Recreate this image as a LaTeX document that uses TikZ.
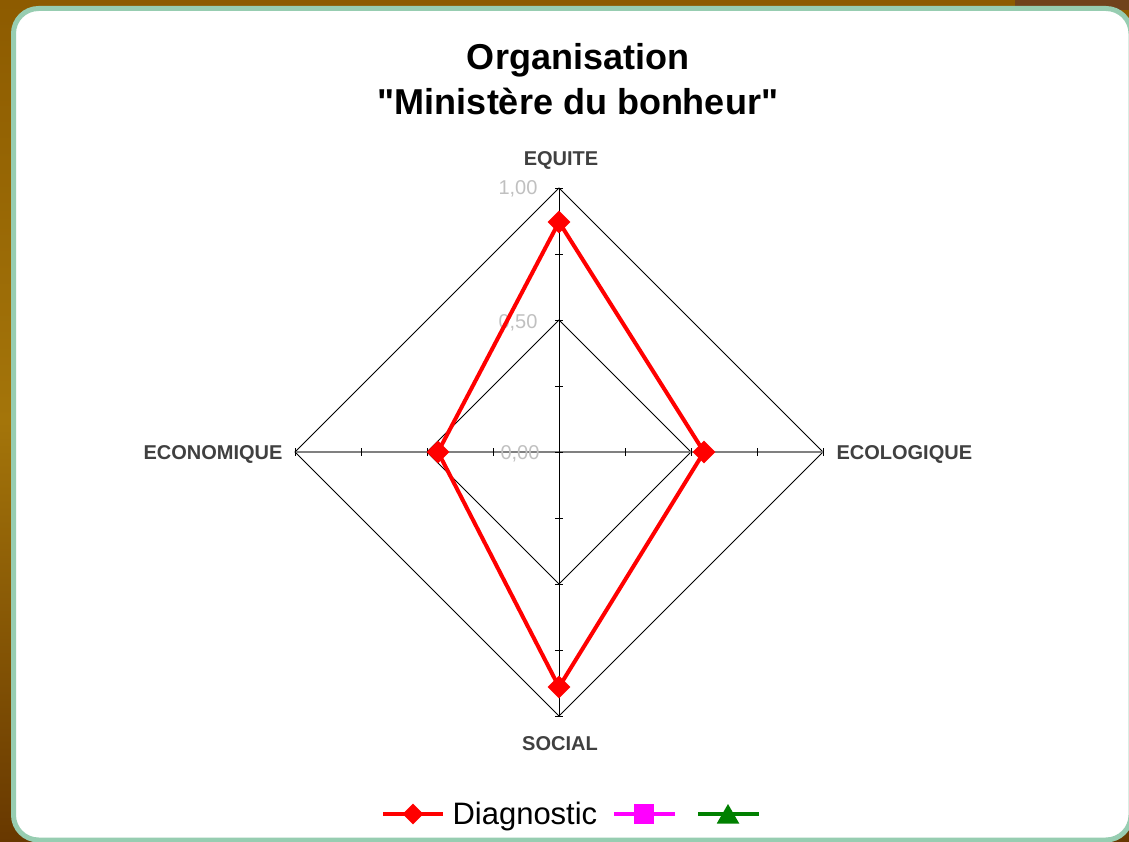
\documentclass[tikz,border=0pt]{standalone}
\usepackage{fontspec}
\setmainfont{Liberation Sans}[Ligatures=TeXOff]
\usetikzlibrary{shapes.geometric}
\definecolor{outerbrown}{RGB}{141,91,0}
\definecolor{goldbrown}{RGB}{164,117,10}
\definecolor{darkbrown}{RGB}{104,56,0}
\definecolor{cornerbrown}{RGB}{112,66,28}
\definecolor{panelgreen}{RGB}{151,205,177}
\definecolor{axistext}{RGB}{64,64,64}
\definecolor{valuegray}{RGB}{192,192,192}
\definecolor{seriesmagenta}{RGB}{255,0,255}
\definecolor{seriesgreen}{RGB}{0,128,0}

\begin{document}
\begin{tikzpicture}[x=1pt,y=-1pt,
        gridline/.style={black,line width=0.8pt},
        axistitle/.style={font=\fontsize{20}{20}\selectfont\bfseries,text=axistext},
        axisvalue/.style={font=\fontsize{20}{20}\selectfont,text=valuegray,anchor=base east},
        charttitle/.style={font=\fontsize{36}{36}\selectfont\bfseries,anchor=base},
        serie/.style={line width=4pt,line join=round},
        diagmark/.style={diamond,fill=red,inner sep=0pt,minimum size=23pt}]
        \useasboundingbox (0,0) rectangle (1129,842);
        \shade[top color=outerbrown,bottom color=darkbrown,middle color=goldbrown] (0,0) rectangle (1129,842);
        \fill[cornerbrown] (1015,0) rectangle (1129,10);
        \filldraw[fill=white,draw=panelgreen,line width=5pt,rounded corners=25pt] (13.5,8.5) rectangle (1131,840);

        \node[charttitle] (title1) at (578,70) {Organisation};
        \node[charttitle] (title2) at (578,115) {"Ministère du bonheur"};

        \coordinate (center) at (559,452);
        \coordinate (equite) at (559,188);
        \coordinate (ecologique) at (823,452);
        \coordinate (social) at (559,716);
        \coordinate (economique) at (295,452);
        \coordinate (equiteH) at (559,320);
        \coordinate (ecologiqueH) at (691,452);
        \coordinate (socialH) at (559,584);
        \coordinate (economiqueH) at (427,452);

        \draw[gridline] (equite) -- (ecologique) -- (social) -- (economique) -- cycle;
        \draw[gridline] (equiteH) -- (ecologiqueH) -- (socialH) -- (economiqueH) -- cycle;
        \draw[gray,line width=1.2pt] (economique) -- (ecologique);
        \draw[gridline] (equite) -- (social);
        \foreach \k in {-4,...,4} {
            \draw[gridline] (555,{452+66*(\k)}) -- (563,{452+66*(\k)});
            \draw[gridline] ({559+66*(\k)},448) -- ({559+66*(\k)},456);
        }

        \node[axisvalue] (v100) at (541,195) {1,00};
        \node[axisvalue] (v050) at (541,328) {0,50};
        \node[axisvalue] (v000) at (543,459) {0,00};

        \node[axistitle,anchor=base] (tEquite) at (561,166) {EQUITE};
        \node[axistitle,anchor=base] (tSocial) at (560,750) {SOCIAL};
        \node[axistitle,anchor=base east] (tEconomique) at (286,459) {ECONOMIQUE};
        \node[axistitle,anchor=base west] (tEcologique) at (833,459) {ECOLOGIQUE};

        \coordinate (dEquite) at (559,222);
        \coordinate (dEcologique) at (704,452);
        \coordinate (dSocial) at (559,687);
        \coordinate (dEconomique) at (438,452);
        \draw[serie,red] (dEquite) -- (dEcologique) -- (dSocial) -- (dEconomique) -- cycle;
        \foreach \p in {dEquite,dEcologique,dSocial,dEconomique}
            \node[diagmark] (m\p) at (\p) {};

        \coordinate (legRedA) at (383,814);
        \coordinate (legRedB) at (443,814);
        \coordinate (legMagA) at (614,814);
        \coordinate (legMagB) at (675,814);
        \coordinate (legGreenA) at (698,814);
        \coordinate (legGreenB) at (759,814);
        \draw[red,line width=3.5pt] (legRedA) -- (legRedB);
        \draw[seriesmagenta,line width=3.5pt] (legMagA) -- (legMagB);
        \draw[seriesgreen,line width=3.5pt] (legGreenA) -- (legGreenB);
        \node[diagmark,minimum size=21pt] (legRed) at (413,814) {};
        \node[anchor=base west,font=\fontsize{31}{31}\selectfont] (legText) at (449,824) {Diagnostic};
        \node[fill=seriesmagenta,inner sep=0pt,minimum size=20pt] (legMag) at (644,814) {};
        \node[regular polygon,regular polygon sides=3,fill=seriesgreen,inner sep=0pt,minimum size=26pt] (legGreen) at (728,817) {};
    \end{tikzpicture}
\end{document}
